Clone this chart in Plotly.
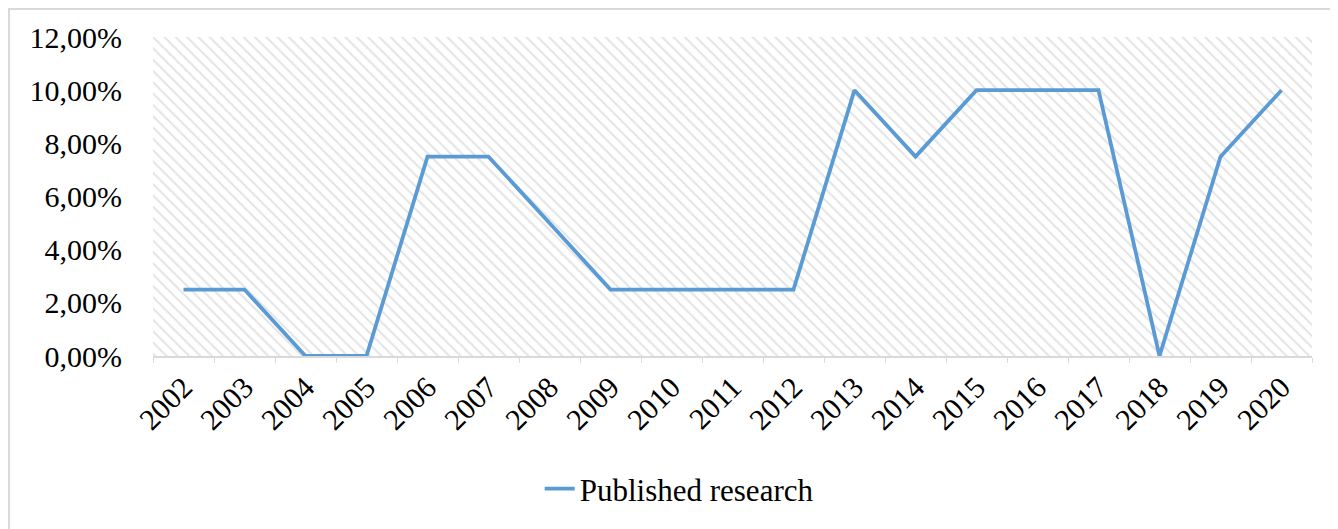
import plotly.graph_objects as go

years = ["2002", "2003", "2004", "2005", "2006", "2007", "2008", "2009", "2010", "2011",
         "2012", "2013", "2014", "2015", "2016", "2017", "2018", "2019", "2020"]
published = [0.025, 0.025, 0.0, 0.0, 0.075, 0.075, 0.05, 0.025, 0.025, 0.025,
             0.025, 0.10, 0.075, 0.10, 0.10, 0.10, 0.0, 0.075, 0.10]
y_ticks = [0.0, 0.02, 0.04, 0.06, 0.08, 0.10, 0.12]
Y_MAX = 0.12

FONT = "Liberation Serif, serif"

fig = go.Figure()

# hatched plot-area background
fig.add_trace(go.Bar(
    x=years, y=[Y_MAX] * len(years), width=1,
    marker=dict(color="white", line=dict(width=0),
                pattern=dict(shape="\\", fgcolor="#c8c8c8", bgcolor="white", size=8, solidity=0.25)),
    hoverinfo="skip", showlegend=False,
))

fig.add_trace(go.Scatter(
    x=years, y=published, mode="lines", name="Published research",
    line=dict(color="#5B9BD5", width=3.8),
))

fig.update_layout(
    width=1330, height=521,
    margin=dict(l=145, r=26, t=29, b=173),
    paper_bgcolor="white", plot_bgcolor="white",
    separators=", ",
    bargap=0,
    font=dict(family=FONT, size=30, color="black"),
    legend=dict(orientation="h", x=0.454, xanchor="center", y=-0.417, yanchor="middle",
                font=dict(family=FONT, size=31, color="black")),
    shapes=[dict(type="rect", xref="paper", yref="paper",
                 x0=-0.1242, x1=1.03, y0=-0.55, y1=1.088,
                 line=dict(color="#d9d9d9", width=2), fillcolor="rgba(0,0,0,0)", layer="below")],
)

fig.update_xaxes(
    type="category", range=[-0.5, 18.5], automargin=False,
    showgrid=False, showline=True, linecolor="#d9d9d9", linewidth=1.5,
    ticks="outside", tickson="boundaries", ticklen=5, tickcolor="#d9d9d9",
    tickangle=-45, tickfont=dict(family=FONT, size=30, color="black"),
)
fig.update_yaxes(
    range=[0, Y_MAX], tickvals=y_ticks, tickformat=".2%", automargin=False,
    showgrid=False, zeroline=False, showline=False,
    ticklabelstandoff=30,
    tickfont=dict(family=FONT, size=30, color="black"),
)

fig.write_html("out.html")
